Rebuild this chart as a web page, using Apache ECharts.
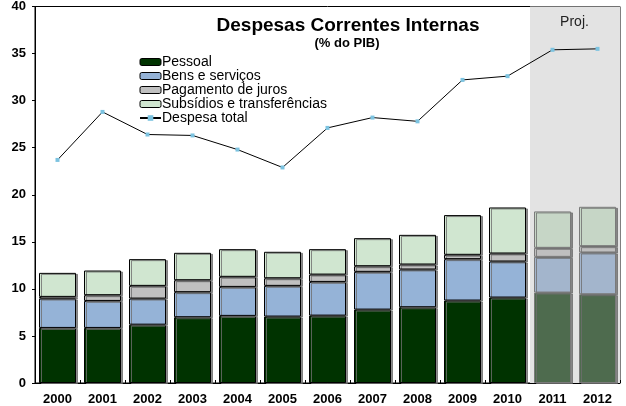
<!DOCTYPE html>
<html>
<head>
<meta charset="utf-8">
<script src="https://cdn.jsdelivr.net/npm/echarts@6/dist/echarts.min.js"></script>
<style>
  html, body { margin: 0; padding: 0; background: #fff; }
  #chart { width: 626px; height: 406px; }
</style>
</head>
<body>
<div id="chart"></div>
<script>
// Despesas correntes internas, % do PIB (2011-2012: projeção)
var years = ['2000','2001','2002','2003','2004','2005','2006','2007','2008','2009','2010','2011','2012'];
var projYears = ['2011','2012'];

var pessoal  = [5.85, 5.85, 6.20, 6.99, 7.13, 7.06, 7.16, 7.80, 8.05, 8.76, 9.08, 9.61, 9.43];
var bens     = [3.12, 2.87, 2.77, 2.66, 3.08, 3.26, 3.58, 4.01, 4.01, 4.40, 3.83, 3.79, 4.44];
var juros    = [0.18, 0.61, 1.35, 1.27, 1.07, 0.81, 0.78, 0.60, 0.53, 0.46, 0.85, 0.96, 0.67];
var subsidios= [2.55, 2.62, 2.84, 2.91, 2.94, 2.81, 2.70, 2.98, 3.15, 4.22, 4.89, 3.87, 4.18];
var despesaTotal = [23.7, 28.8, 26.4, 26.3, 24.8, 22.9, 27.1, 28.2, 27.8, 32.2, 32.6, 35.4, 35.5];

var yTicks = [0, 5, 10, 15, 20, 25, 30, 35, 40];
var projHeight = 40;

var FONT = '"Liberation Sans", Arial, sans-serif';

function isProj(i) { return projYears.indexOf(years[i]) >= 0; }

// stacked segment: normal colour before the projection, muted colour inside it
function segment(name, values, color, projColor) {
  return {
    name: name,
    type: 'bar',
    stack: 'despesa',
    barWidth: 37,
    z: 3,
    itemStyle: {
      color: color,
      borderColor: '#000',
      borderWidth: 1,
      shadowColor: 'rgba(110,110,110,0.8)',
      shadowOffsetX: 2,
      shadowOffsetY: 1
    },
    data: values.map(function (v, i) {
      if (!isProj(i)) return v;
      return { value: v, itemStyle: { color: projColor, borderColor: '#7a7a7a' } };
    })
  };
}

function legendBox(name, color) {
  return { name: name, itemStyle: { color: color, borderColor: '#000', borderWidth: 1, shadowOffsetX: 0, shadowOffsetY: 0, shadowColor: 'transparent' } };
}

var chart = echarts.init(document.getElementById('chart'), null, { renderer: 'canvas' });

chart.setOption({
  animation: false,
  backgroundColor: '#fff',
  textStyle: { fontFamily: FONT },
  title: [
    {
      text: 'Despesas Correntes Internas',
      left: 343, top: 11, textAlign: 'center',
      textStyle: { fontSize: 19, fontWeight: 'bold', color: '#000', fontFamily: FONT }
    },
    {
      text: '(% do PIB)',
      left: 342, top: 32, textAlign: 'center',
      textStyle: { fontSize: 13, fontWeight: 'bold', color: '#000', fontFamily: FONT }
    }
  ],
  legend: {
    orient: 'vertical',
    left: 139, top: 55,
    itemWidth: 21, itemHeight: 7,
    itemGap: 0,
    padding: 0,
    textStyle: { fontSize: 14, color: '#000', lineHeight: 13.5, padding: [0, 0, 0, -4], fontFamily: FONT },
    data: [
      legendBox('Pessoal', '#003300'),
      legendBox('Bens e serviços', '#95b3d7'),
      legendBox('Pagamento de juros', '#c0c0c0'),
      legendBox('Subsídios e transferências', '#d0e6d0'),
      { name: 'Despesa total' }
    ]
  },
  grid: {
    left: 35, right: 6, top: 6, bottom: 23,
    show: true, borderColor: '#000', borderWidth: 1, backgroundColor: 'transparent'
  },
  xAxis: [
    {
      type: 'category',
      data: years,
      axisLine: { lineStyle: { color: '#000', width: 1 } },
      axisTick: { show: true, inside: true, length: 3, lineStyle: { color: '#000' } },
      axisLabel: { fontSize: 13, fontWeight: 'bold', color: '#000', margin: 10, fontFamily: FONT }
    },
    {
      type: 'category',
      data: years,
      show: false,
      position: 'bottom'
    }
  ],
  yAxis: {
    type: 'value',
    min: yTicks[0], max: yTicks[yTicks.length - 1], interval: 5,
    splitLine: { show: false },
    axisLine: { show: true, lineStyle: { color: '#000', width: 1 } },
    axisTick: { show: true, length: 3, lineStyle: { color: '#000' } },
    axisLabel: { fontSize: 13, fontWeight: 'bold', color: '#000', margin: 9, fontFamily: FONT }
  },
  series: [
    {
      // shaded projection band
      name: 'proj',
      type: 'bar',
      xAxisIndex: 1,
      barWidth: '100%',
      z: 1,
      silent: true,
      itemStyle: { color: '#e3e3e3', borderWidth: 0, shadowColor: 'transparent' },
      data: years.map(function (y) { return projYears.indexOf(y) >= 0 ? projHeight : null; }),
      markPoint: {
        symbol: 'rect', symbolSize: 0,
        label: { show: true, formatter: 'Proj.', fontSize: 14, color: '#222', fontFamily: FONT, offset: [22, 0] },
        data: [{ coord: [projYears[0], 38.3] }]
      }
    },
    segment('Pessoal', pessoal, '#003300', '#4e6b4e'),
    segment('Bens e serviços', bens, '#95b3d7', '#a3b5cc'),
    segment('Pagamento de juros', juros, '#c0c0c0', '#bfbfbf'),
    segment('Subsídios e transferências', subsidios, '#d0e6d0', '#c6d6c6'),
    {
      name: 'Despesa total',
      type: 'line',
      z: 5,
      data: despesaTotal,
      symbol: 'rect',
      symbolSize: 4,
      showAllSymbol: true,
      lineStyle: { color: '#000', width: 1 },
      itemStyle: { color: '#7cc3e0', borderWidth: 0 }
    }
  ]
});
</script>
</body>
</html>
